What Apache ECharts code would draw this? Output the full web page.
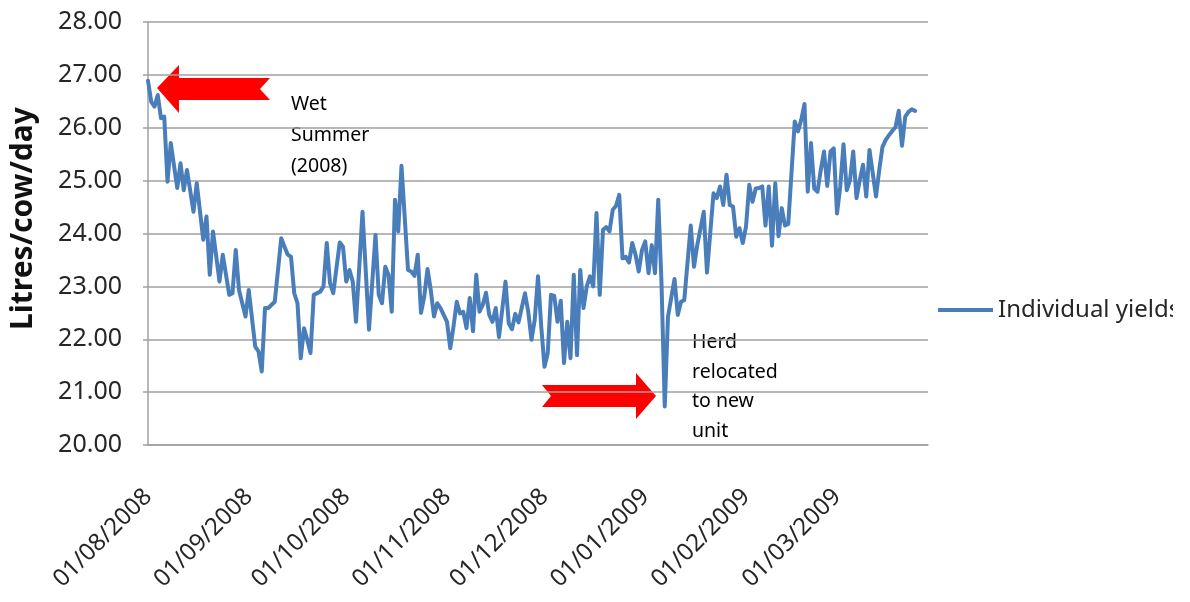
<!DOCTYPE html>
<html lang="en">
<head>
<meta charset="UTF-8">
<title>Individual yields</title>
<script src="https://cdn.jsdelivr.net/npm/echarts@6/dist/echarts.min.js"></script>
<style>
  html, body { margin: 0; padding: 0; background: #fff; }
  #container { width: 1173px; height: 602px; }
</style>
</head>
<body>
<div id="container"></div>
<script type="text/javascript">
  // days counted from 01/08/2008, one entry per reading
  var dayOffsets = [
    0, 1, 2, 3, 4, 5, 6, 7, 9, 10, 11, 12, 14, 15, 17, 18, 19, 20, 22, 23,
    25, 26, 27, 28, 30, 31, 33, 34, 35, 36, 37, 39, 41, 42, 43, 44, 45, 46, 47, 48,
    49, 50, 51, 53, 54, 55, 56, 57, 59, 60, 61, 62, 63, 64, 66, 68, 70, 71, 72, 73,
    74, 75, 76, 77, 78, 80, 81, 82, 83, 84, 85, 86, 87, 88, 89, 90, 92, 93, 94, 95,
    96, 97, 98, 99, 100, 101, 102, 103, 104, 105, 106, 107, 108, 110, 111, 112, 113, 114, 116, 117,
    118, 119, 120, 121, 122, 123, 124, 125, 126, 127, 128, 129, 130, 131, 132, 133, 134, 135, 136, 137,
    138, 139, 140, 141, 142, 143, 144, 145, 146, 147, 148, 149, 150, 151, 152, 153, 154, 155, 156, 157,
    158, 159, 160, 162, 163, 164, 165, 167, 168, 169, 171, 172, 174, 175, 176, 177, 178, 179, 180, 181,
    182, 183, 184, 185, 186, 187, 188, 189, 190, 191, 192, 193, 194, 195, 196, 197, 199, 200, 201, 202,
    203, 204, 205, 206, 207, 208, 209, 210, 211, 212, 213, 214, 215, 216, 217, 218, 219, 220, 221, 222,
    223, 224, 225, 226, 227, 228, 229, 230, 231, 232, 233, 234, 235, 236
  ];
  var yields = [
    26.89, 26.49, 26.40, 26.62, 26.18, 26.21, 24.98, 25.71, 24.86, 25.33, 24.82, 25.20, 24.41, 24.95, 23.88, 24.32, 23.22, 24.04, 23.09, 23.60,
    22.84, 22.87, 23.69, 22.93, 22.43, 22.93, 21.86, 21.77, 21.39, 22.59, 22.59, 22.71, 23.91, 23.75, 23.60, 23.56, 22.87, 22.68, 21.64, 22.21,
    21.99, 21.74, 22.84, 22.90, 23.00, 23.82, 23.06, 22.87, 23.83, 23.75, 23.09, 23.31, 23.09, 22.33, 24.41, 22.18, 23.97, 22.84, 22.68, 23.37,
    23.22, 22.52, 24.64, 24.04, 25.28, 23.31, 23.28, 23.20, 23.60, 22.50, 22.81, 23.33, 22.93, 22.43, 22.68, 22.59, 22.33, 21.83, 22.24, 22.71,
    22.49, 22.52, 22.21, 22.78, 22.15, 23.22, 22.52, 22.65, 22.88, 22.46, 22.33, 22.59, 22.04, 23.09, 22.30, 22.19, 22.48, 22.32, 22.87, 22.52,
    21.99, 22.37, 23.19, 22.24, 21.48, 21.74, 22.84, 22.82, 22.33, 22.73, 21.55, 22.33, 21.64, 23.22, 21.70, 23.31, 22.59, 23.00, 23.19, 23.00,
    24.39, 22.84, 24.07, 24.12, 24.04, 24.45, 24.52, 24.73, 23.53, 23.56, 23.45, 23.82, 23.60, 23.28, 23.69, 23.85, 23.25, 23.78, 23.25, 24.64,
    23.06, 20.73, 22.43, 23.14, 22.46, 22.71, 22.74, 24.15, 23.37, 23.78, 24.41, 23.26, 24.76, 24.67, 24.89, 24.54, 25.11, 24.54, 24.51, 23.94,
    24.10, 23.82, 24.13, 24.92, 24.60, 24.85, 24.86, 24.89, 24.15, 24.89, 23.77, 24.95, 23.95, 24.48, 24.15, 24.18, 26.12, 25.93, 26.15, 26.45,
    24.79, 25.71, 24.85, 24.79, 25.20, 25.55, 24.90, 25.55, 25.61, 24.38, 24.89, 25.69, 24.82, 25.01, 25.55, 24.67, 25.01, 25.30, 24.70, 25.58,
    25.14, 24.70, 25.20, 25.64, 25.77, 25.86, 25.94, 26.01, 26.32, 25.66, 26.21, 26.30, 26.35, 26.32
  ];
  var tickLabels = ['01/08/2008', '01/09/2008', '01/10/2008', '01/11/2008',
                    '01/12/2008', '01/01/2009', '01/02/2009', '01/03/2009'];
  var axisDays = 240;

  var DAY = 86400000;
  var start = Date.UTC(2008, 7, 1);
  function dayOf(s) {
    var p = s.split('/');
    return Math.round((Date.UTC(+p[2], +p[1] - 1, +p[0]) - start) / DAY);
  }

  var seriesData = dayOffsets.map(function (d, i) { return [d, yields[i]]; });
  var tickDays = tickLabels.map(dayOf);

  var font = '"Noto Sans", "Open Sans", sans-serif';
  var dom = document.getElementById('container');
  var myChart = echarts.init(dom, null, { renderer: 'canvas' });

  var option = {
    animation: false,
    textStyle: { fontFamily: font },
    grid: { left: 148, right: 245, top: 22, bottom: 157, outerBoundsMode: 'none', containLabel: false },
    legend: {
      data: ['Individual yields'],
      left: 938,
      top: 298,
      padding: 0,
      icon: 'rect',
      itemWidth: 55,
      itemHeight: 4,
      textStyle: { fontSize: 24, color: '#262626', fontFamily: font }
    },
    xAxis: {
      type: 'value',
      min: 0,
      max: axisDays,
      splitLine: { show: false },
      axisLine: { lineStyle: { color: '#a0a0a0', width: 1.5 } },
      axisTick: { show: false },
      axisLabel: {
        customValues: tickDays,
        rotate: 45,
        margin: 48,
        fontSize: 24,
        color: '#262626',
        fontFamily: font,
        formatter: function (v) { return tickLabels[tickDays.indexOf(v)]; }
      }
    },
    yAxis: {
      type: 'value',
      min: 20,
      max: 28,
      interval: 1,
      name: 'Litres/cow/day',
      nameLocation: 'middle',
      nameRotate: 90,
      nameGap: 110,
      nameTextStyle: { fontSize: 30, fontWeight: 'bold', color: '#111', fontFamily: font, padding: [0, 0, 0, 30] },
      axisLine: { show: true, lineStyle: { color: '#a0a0a0', width: 1.5 } },
      axisTick: { show: true, length: 5, lineStyle: { color: '#a0a0a0', width: 1.5 } },
      splitLine: { lineStyle: { color: '#a0a0a0', width: 1.5 } },
      axisLabel: {
        margin: 26,
        fontSize: 25,
        color: '#262626',
        fontFamily: font,
        formatter: function (v) { return v.toFixed(2); }
      }
    },
    series: [
      {
        name: 'Individual yields',
        type: 'line',
        data: seriesData,
        showSymbol: false,
        color: '#4a7ebb',
        lineStyle: { width: 4, color: '#4a7ebb', join: 'round', cap: 'round' }
      }
    ],
    graphic: [
      // red arrow pointing at the start of the series
      {
        type: 'polygon',
        shape: { points: [[157, 88], [179, 65], [179, 78], [270, 78], [260, 89], [270, 100], [179, 100], [179, 113]] },
        style: { fill: '#ff0000' }
      },
      // red arrow pointing at the drop in January
      {
        type: 'polygon',
        shape: { points: [[656, 396], [636, 373], [636, 385], [542, 385], [551, 396], [542, 407], [636, 407], [636, 419]] },
        style: { fill: '#ff0000' }
      },
      {
        type: 'line',
        shape: { x1: 212, y1: 75, x2: 262, y2: 75 },
        style: { stroke: '#fff', lineWidth: 3, lineDash: [6, 4] }
      },
      {
        type: 'rect',
        shape: { x: 236, y: 18, width: 3, height: 8 },
        style: { fill: '#fff' }
      },
      {
        type: 'text',
        x: 291,
        y: 89,
        style: { text: 'Wet\nSummer\n(2008)', font: '19.5px ' + font, lineHeight: 31, fill: '#000' }
      },
      {
        type: 'text',
        x: 692,
        y: 328,
        style: { text: 'Herd\nrelocated\nto new\nunit', font: '19.5px ' + font, lineHeight: 29.5, fill: '#000' }
      }
    ]
  };

  myChart.setOption(option);
  window.addEventListener('resize', myChart.resize);
</script>
</body>
</html>
